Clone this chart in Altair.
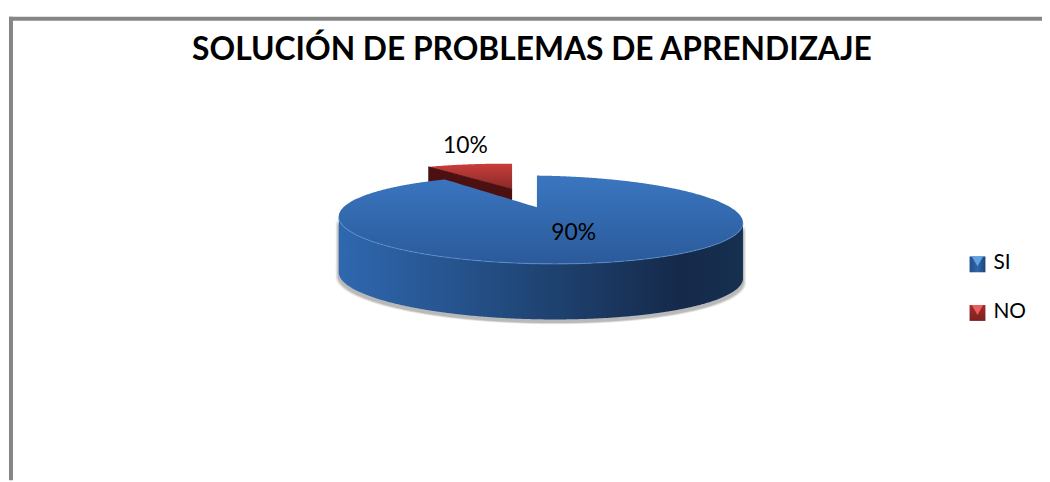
import numpy as np
import pandas as pd
import altair as alt

# ---- chart values ----
categories = ["SI", "NO"]
shares = [90, 10]
title_text = "SOLUCIÓN DE PROBLEMAS DE APRENDIZAJE"
legend_colors = ["#2f66ad", "#b5302f"]

# ---- layout of the 3D pie (screen pixels) ----
W, H, M = 1050, 482, 8
FONT = "Lato"
apex_x, apex_y = 541.0, 207.0
A_X, A_Y, SKEW, PERSP = 195.0, 41.0, -13.0, 0.281
START_DEG = 3.8
DEPTH = 56.0

xs = alt.Scale(domain=[M, W], range=[0, W - M], nice=False, zero=False)
ys = alt.Scale(domain=[H, M], range=[H - M, 0], nice=False, zero=False)
X = lambda f: alt.X(f, type="quantitative", scale=xs, axis=None)
Y = lambda f: alt.Y(f, type="quantitative", scale=ys, axis=None, stack=None)


def project(theta_deg, ax=apex_x, ay=apex_y, fx=1.0, fy=1.0):
    t = np.radians(theta_deg)
    w = 1 + PERSP * np.cos(t)
    return (ax + fx * (A_X * np.sin(t) + SKEW * np.cos(t)) / w,
            ay - fy * A_Y * np.cos(t) / w)


# outline of the whole ellipse split into its upper and lower halves
tt = np.linspace(0, 360, 4001)[:-1]
ex, ey = project(tt)
i_l, i_r = int(np.argmin(ex)), int(np.argmax(ex))
order = np.roll(np.arange(len(tt)), -i_l)
k = int(np.where(order == i_r)[0][0])
up = order[: k + 1]
lo = np.append(order[k:], i_l)[::-1]
x_min, x_max = ex[i_l], ex[i_r]


def rim_up(x):
    return np.interp(x, ex[up], ey[up])


def rim_lo(x):
    return np.interp(x, ex[lo], ey[lo])


# x grid, denser towards the ends
u = np.linspace(0, np.pi, 500)
grid = (x_min + x_max) / 2 - (x_max - x_min) / 2 * np.cos(u)

# SI slice spans shares[0] percent, clockwise from START_DEG
end_deg = START_DEG + shares[0] * 3.6
end_x, end_y = project(end_deg)
g_left = grid[grid < end_x]
g_mid = np.linspace(end_x, apex_x, 40)
g_right = grid[grid > apex_x + 0.02]
top_x = np.concatenate([g_left, g_mid, [apex_x + 0.01], g_right])
top_up = np.concatenate([
    rim_up(g_left),
    end_y + (g_mid - end_x) / (apex_x - end_x) * (apex_y - end_y),
    rim_up(np.array([apex_x])),
    rim_up(g_right),
])
face = pd.DataFrame({"x": top_x, "y": top_up, "y2": rim_lo(top_x)})
wall = pd.DataFrame({"x": grid, "y": rim_lo(grid), "y2": rim_lo(grid) + DEPTH})

# NO slice: pulled away from the centre
no_ax, no_ay, no_fx, no_fy = 516.0, 189.0, 0.91, 0.81
a0 = end_deg
a1 = end_deg + shares[1] * 3.6
th = np.linspace(a0, a1, 60)
rx, ry = project(th, no_ax, no_ay, no_fx, no_fy)
no_x = np.concatenate([rx, [no_ax + 0.01]])
no_up = np.concatenate([ry, [no_ay]])
no_lo = np.interp(no_x, [rx[0], no_ax + 0.01], [ry[0], no_ay])
no_face = pd.DataFrame({"x": no_x, "y": no_up, "y2": no_lo})
sx = np.linspace(rx[0], no_ax, 30)
sy = np.interp(sx, [rx[0], no_ax], [ry[0], no_ay])
no_side = pd.DataFrame({"x": sx, "y": sy, "y2": sy + 30})


def stops(*pairs):
    return [alt.GradientStop(offset=o, color=c) for o, c in pairs]


def gradient(x2, y2, *pairs):
    return alt.LinearGradient(gradient="linear", x1=0, x2=x2, y1=0, y2=y2, stops=stops(*pairs))


grad_face = gradient(0, 1, (0, "#3a76c0"), (1, "#2b5a9a"))
grad_wall = gradient(1, 0, (0, "#2f68b0"), (0.5, "#1f4473"), (0.85, "#15294a"), (1, "#16304f"))
grad_no = gradient(0, 1, (0, "#c93e3a"), (1, "#86292a"))


def area(df, color, **kw):
    return alt.Chart(df).mark_area(color=color, orient="vertical", **kw).encode(
        x=X("x"), y=Y("y"), y2=alt.Y2("y2"))


# soft grey shadow below the wall
shadows = []
for grow, op in [(3.0, 0.18), (2.0, 0.25), (1.0, 0.35)]:
    sh = pd.DataFrame({
        "x": (grid - (x_min + x_max) / 2) * (1 + grow / 203) + (x_min + x_max) / 2,
        "y": rim_lo(grid) + 2,
        "y2": rim_lo(grid) + DEPTH + grow * 0.6 + 3,
    })
    shadows.append(area(sh, "#8c8c8c", opacity=op))

rim_line = alt.Chart(wall).mark_line(color="#5b93d6", strokeWidth=1.2, opacity=0.55).encode(
    x=X("x"), y=Y("y"))
no_edge = alt.Chart(no_side).mark_line(color="#3d0b0b", strokeWidth=1).encode(
    x=X("x"), y=Y("y"))

legend_df = pd.DataFrame({"category": categories, "share": shares})
legend_layer = alt.Chart(legend_df).mark_arc(opacity=0, outerRadius=1).encode(
    theta=alt.Theta("share:Q"),
    color=alt.Color("category:N", sort=categories,
                    scale=alt.Scale(domain=categories, range=legend_colors),
                    legend=alt.Legend(title=None, orient="none", legendX=969, legendY=245,
                                      symbolType="square", symbolSize=256, symbolOpacity=0,
                                      symbolStrokeWidth=0, labelFont=FONT, labelFontSize=21,
                                      labelColor="#000000", rowPadding=27, labelOffset=3)),
)

# bevelled legend keys
key_x, key_y = [985, 985], [264.5, 313.5]
key_si = alt.Chart(pd.DataFrame({"x": key_x[:1], "y": key_y[:1]})).mark_square(
    size=256, opacity=1, color=gradient(1, 0, (0, "#234f88"), (0.5, "#2f66ad"), (1, "#1e4478"))).encode(x=X("x"), y=Y("y"))
key_no = alt.Chart(pd.DataFrame({"x": key_x[1:], "y": key_y[1:]})).mark_square(
    size=256, opacity=1, color=gradient(0, 1, (0, "#a52c2a"), (1, "#7c2020"))).encode(x=X("x"), y=Y("y"))
tri_si = alt.Chart(pd.DataFrame({"x": key_x[:1], "y": [key_y[0] - 3]})).mark_point(
    shape="triangle-down", filled=True, size=130, opacity=1, color="#5fa3e6").encode(x=X("x"), y=Y("y"))
tri_no = alt.Chart(pd.DataFrame({"x": key_x[1:], "y": [key_y[1] - 3]})).mark_point(
    shape="triangle-down", filled=True, size=130, opacity=1, color="#e8605c").encode(x=X("x"), y=Y("y"))


def label(share, px, py):
    return alt.Chart(pd.DataFrame({"t": [f"{share}%"]})).mark_text(
        font=FONT, fontSize=23, color="#000000").encode(
        text="t:N", x=alt.value(px - M), y=alt.value(py - M))


frame_top = alt.Chart(pd.DataFrame({"a": [0]})).mark_rule(color="#868686", strokeWidth=4).encode(
    x=alt.value(1), x2=alt.value(W - M), y=alt.value(9))
frame_left = alt.Chart(pd.DataFrame({"a": [0]})).mark_rule(color="#868686", strokeWidth=4).encode(
    x=alt.value(3), y=alt.value(7), y2=alt.value(H - M))

chart = alt.layer(
    frame_top, frame_left, legend_layer,
    area(no_side, "#4d1010"), area(no_face, grad_no), no_edge,
    *shadows,
    area(wall, grad_wall), area(face, grad_face), rim_line,
    key_si, key_no, tri_si, tri_no,
    label(shares[0], 578, 233), label(shares[1], 469, 145),
).properties(
    width=W - M, height=H - M, padding=0, autosize=alt.AutoSizeParams(type="none"),
    title=alt.TitleParams(title_text, font=FONT, fontSize=32, fontWeight="bold", color="#000000",
                          anchor="middle", frame="group", baseline="top", dx=7, dy=58, orient="top", offset=0),
    background="#ffffff",
).resolve_scale(color="independent").configure_view(stroke=None)

chart.save("out.html", embed_options={"renderer": "svg", "actions": False})
